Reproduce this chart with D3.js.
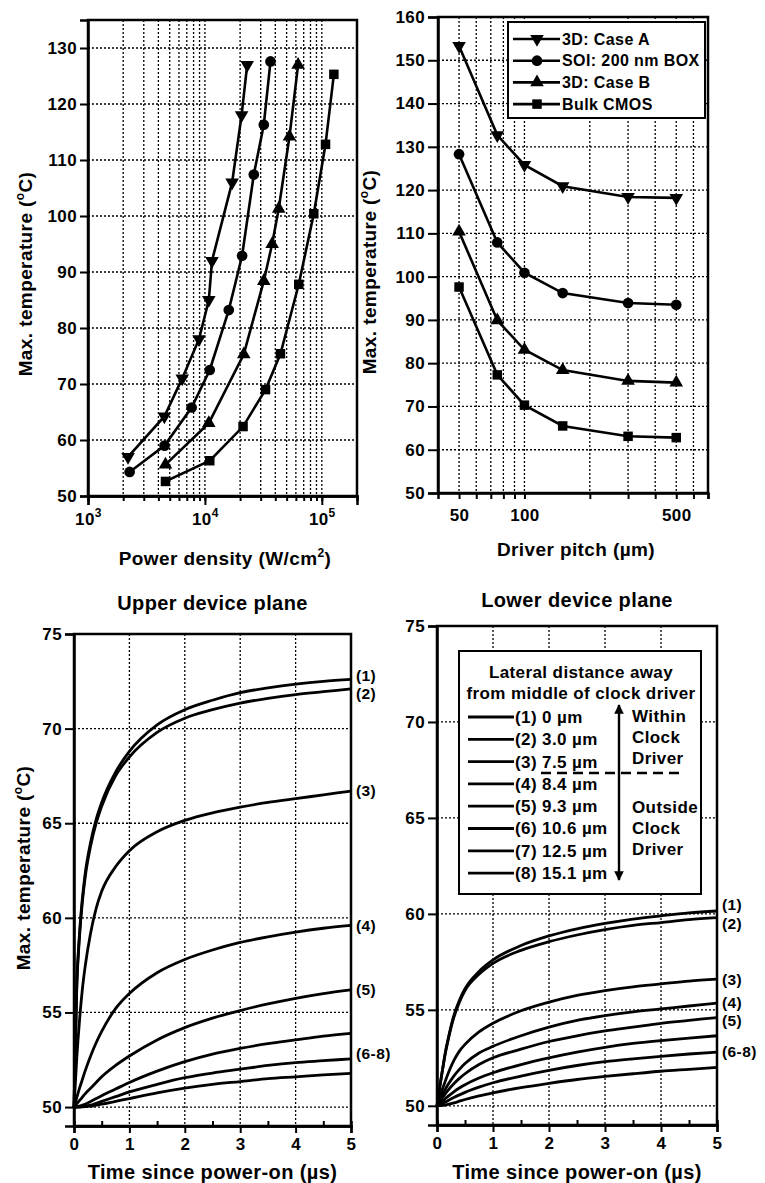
<!DOCTYPE html>
<html>
<head>
<meta charset="utf-8">
<script src="https://cdn.jsdelivr.net/npm/d3@7"></script>
<style>
  body { margin: 0; background: #fff; }
  text { font-family: 'Liberation Sans', Arial, sans-serif; font-weight: bold; fill: #000; letter-spacing: 0.4px; }
  .axis text { font-size: 17px; }
  .axis path, .axis line { stroke: #000; }
  .grid line { stroke: #000; stroke-width: 1.3; stroke-dasharray: 2, 2; }
</style>
</head>
<body>
<script>
// ---- top-left: max temperature vs power density
const pdCaseA = [2200, 4500, 6400, 8900, 10800, 11500, 17100, 20600, 23000]
const tCaseA = [57, 64.2, 71, 78, 85, 92, 106, 118, 127]
const pdSoi = [2270, 4520, 7700, 11000, 16000, 20800, 26200, 31900, 36400]
const tSoi = [54.3, 59, 65.8, 72.5, 83.2, 92.9, 107.4, 116.3, 127.6]
const pdCaseB = [4600, 10800, 21500, 31900, 37600, 42800, 52900, 62700]
const tCaseB = [55.6, 63, 75.3, 88.4, 95, 101.3, 114.2, 127]
const pdBulk = [4600, 11000, 21200, 33000, 44300, 63500, 85400, 107600, 126800]
const tBulk = [52.6, 56.3, 62.4, 69, 75.4, 87.8, 100.4, 112.8, 125.3]

// ---- top-right: max temperature vs driver pitch
const pitch = [50, 75, 100, 150, 300, 500]
const pitchCaseA = [153.3, 132.7, 125.8, 120.9, 118.4, 118.2]
const pitchSoi = [128.3, 107.9, 100.9, 96.2, 93.9, 93.5]
const pitchCaseB = [110.4, 89.9, 83.1, 78.4, 75.9, 75.5]
const pitchBulk = [97.6, 77.3, 70.3, 65.5, 63.1, 62.8]
const seriesNames = ['3D: Case A', 'SOI: 200 nm BOX', '3D: Case B', 'Bulk CMOS']

// ---- bottom: transient max temperature, curves (1)..(8)
const time = [0, 0.05, 0.1, 0.15, 0.2, 0.3, 0.4, 0.5, 0.75, 1, 1.5, 2, 2.5, 3, 3.5, 4, 4.5, 5]
const upper = [
  [50, 56.5, 59.2, 61, 62.3, 64, 65.2, 66.1, 67.7, 68.8, 70.2, 71, 71.5, 71.9, 72.15, 72.35, 72.5, 72.6],
  [50, 56.3, 59, 60.8, 62.1, 63.8, 65, 65.9, 67.5, 68.5, 69.8, 70.55, 71, 71.35, 71.6, 71.8, 71.95, 72.1],
  [50, 52.6, 54.6, 56.2, 57.4, 59.2, 60.5, 61.4, 62.7, 63.55, 64.55, 65.15, 65.55, 65.85, 66.1, 66.3, 66.5, 66.7],
  [50, 50.5, 51, 51.45, 51.9, 52.7, 53.4, 54, 55.2, 56, 57.1, 57.8, 58.3, 58.7, 59, 59.25, 59.45, 59.6],
  [50, 50.17, 50.35, 50.52, 50.7, 51, 51.3, 51.6, 52.2, 52.7, 53.55, 54.2, 54.7, 55.1, 55.45, 55.75, 56, 56.2],
  [50, 50.02, 50.05, 50.1, 50.15, 50.3, 50.45, 50.6, 50.95, 51.3, 51.9, 52.4, 52.8, 53.1, 53.35, 53.55, 53.75, 53.9],
  [50, 50, 50.01, 50.02, 50.04, 50.1, 50.2, 50.3, 50.55, 50.8, 51.2, 51.55, 51.8, 52, 52.2, 52.35, 52.45, 52.55],
  [50, 50, 50, 50.01, 50.02, 50.05, 50.1, 50.15, 50.3, 50.45, 50.75, 51, 51.2, 51.35, 51.5, 51.6, 51.7, 51.78]
]
const lower = [
  [50, 51, 51.9, 52.8, 53.5, 54.7, 55.5, 56.1, 57, 57.6, 58.35, 58.85, 59.22, 59.5, 59.73, 59.9, 60.05, 60.15],
  [50, 51, 51.9, 52.75, 53.45, 54.6, 55.4, 56, 56.85, 57.42, 58.1, 58.55, 58.9, 59.18, 59.4, 59.55, 59.7, 59.8],
  [50, 50.45, 50.9, 51.3, 51.7, 52.35, 52.85, 53.2, 53.85, 54.3, 54.95, 55.4, 55.75, 56, 56.2, 56.35, 56.5, 56.6],
  [50, 50.3, 50.6, 50.87, 51.12, 51.55, 51.9, 52.2, 52.75, 53.1, 53.65, 54.1, 54.45, 54.7, 54.9, 55.05, 55.2, 55.35],
  [50, 50.22, 50.43, 50.63, 50.82, 51.15, 51.43, 51.67, 52.15, 52.5, 52.95, 53.35, 53.65, 53.9, 54.1, 54.3, 54.45, 54.6],
  [50, 50.12, 50.25, 50.38, 50.5, 50.73, 50.93, 51.1, 51.45, 51.72, 52.15, 52.5, 52.8, 53.05, 53.25, 53.4, 53.53, 53.65],
  [50, 50.05, 50.12, 50.2, 50.28, 50.43, 50.57, 50.7, 50.97, 51.2, 51.55, 51.85, 52.1, 52.3, 52.45, 52.58, 52.7, 52.8],
  [50, 50.01, 50.02, 50.04, 50.07, 50.15, 50.24, 50.33, 50.52, 50.68, 50.95, 51.17, 51.37, 51.53, 51.67, 51.8, 51.9, 52]
]
const curveLabels = ['(1)', '(2)', '(3)', '(4)', '(5)', '(6-8)']
const legendTitle = ['Lateral distance away', 'from middle of clock driver']
const distances = ['(1) 0 µm', '(2) 3.0 µm', '(3) 7.5 µm', '(4) 8.4 µm',
  '(5) 9.3 µm', '(6) 10.6 µm', '(7) 12.5 µm', '(8) 15.1 µm']

const svg = d3.select('body').append('svg')
    .attr('width', 765)
    .attr('height', 1183)

const symbols = [
  {type: d3.symbolTriangle, size: 80, rot: 180},
  {type: d3.symbolCircle, size: 90, rot: 0},
  {type: d3.symbolTriangle, size: 80, rot: 0},
  {type: d3.symbolSquare, size: 90, rot: 0}
]

function styleAxis(g) {
  g.attr('font-family', null).attr('font-size', null)
  g.select('.domain').attr('stroke-width', 2.5)
  g.selectAll('.tick line').attr('stroke-width', 2)
}

function frame(x0, y0, x1, y1) {
  svg.append('rect')
    .attr('x', x0).attr('y', y0)
    .attr('width', x1 - x0).attr('height', y1 - y0)
    .attr('fill', 'none').attr('stroke', '#000').attr('stroke-width', 2.5)
}

function vgrid(scale, vals, y0, y1) {
  svg.append('g').attr('class', 'grid').selectAll('line').data(vals).enter().append('line')
    .attr('x1', (d) => scale(d)).attr('x2', (d) => scale(d))
    .attr('y1', y0).attr('y2', y1)
}

function hgrid(scale, vals, x0, x1) {
  svg.append('g').attr('class', 'grid').selectAll('line').data(vals).enter().append('line')
    .attr('y1', (d) => scale(d)).attr('y2', (d) => scale(d))
    .attr('x1', x0).attr('x2', x1)
}

function ytitle(x, y, label) {
  const t = svg.append('text')
    .attr('transform', `translate(${x}, ${y}) rotate(-90)`)
    .attr('text-anchor', 'middle')
    .attr('font-size', 19)
  t.append('tspan').text(label + ' (')
  t.append('tspan').attr('font-size', 12).attr('dy', -8).text('o')
  t.append('tspan').attr('dy', 8).text('C)')
}

function drawSeries(xs, ys, xScale, yScale, sym) {
  const pts = xs.map((d, i) => [xScale(d), yScale(ys[i])])
  svg.append('path')
    .attr('d', d3.line()(pts))
    .attr('fill', 'none').attr('stroke', '#000').attr('stroke-width', 2.6)
  svg.append('g').selectAll('path').data(pts).enter().append('path')
    .attr('d', d3.symbol(sym.type, sym.size))
    .attr('transform', (p) => `translate(${p[0]}, ${p[1]}) rotate(${sym.rot})`)
    .attr('fill', '#000')
}

// ================= top-left =================
const xPd = d3.scaleLog().domain([1e3, 2e5]).range([88, 357])
const yTL = d3.scaleLinear().domain([50, 135]).range([496, 20])
const pdMinor = d3.range(2, 10).map((d) => d * 1e3)
  .concat(d3.range(1, 10).map((d) => d * 1e4), [1e5])

vgrid(xPd, pdMinor, 20, 496)
hgrid(yTL, d3.range(60, 131, 10), 88, 357)

svg.append('g').attr('class', 'axis')
    .attr('transform', 'translate(0, 496)')
    .call(d3.axisBottom(xPd).tickValues(pdMinor).tickSize(5).tickFormat(''))
    .call(styleAxis)
const pdMajor = svg.append('g').attr('class', 'axis')
    .attr('transform', 'translate(0, 496)')
    .call(d3.axisBottom(xPd).tickValues([1e3, 1e4, 1e5]).tickSize(9).tickFormat(''))
    .call(styleAxis)
pdMajor.selectAll('.tick').append('text')
    .attr('y', 29).attr('text-anchor', 'middle')
    .each(function (d) {
      const t = d3.select(this)
      t.append('tspan').text('10')
      t.append('tspan').attr('font-size', 12).attr('dy', -8).text(Math.round(Math.log10(d)))
    })

svg.append('g').attr('class', 'axis')
    .attr('transform', 'translate(88, 0)')
    .call(d3.axisLeft(yTL).tickValues(d3.range(50, 131, 10)).tickSize(8).tickPadding(3))
    .call(styleAxis)
frame(88, 20, 357, 496)

drawSeries(pdCaseA, tCaseA, xPd, yTL, symbols[0])
drawSeries(pdSoi, tSoi, xPd, yTL, symbols[1])
drawSeries(pdCaseB, tCaseB, xPd, yTL, symbols[2])
drawSeries(pdBulk, tBulk, xPd, yTL, symbols[3])

ytitle(32, 274, 'Max. temperature')
const pdTitle = svg.append('text').attr('x', 225).attr('y', 565)
    .attr('text-anchor', 'middle').attr('font-size', 19)
pdTitle.append('tspan').text('Power density (W/cm')
pdTitle.append('tspan').attr('font-size', 12).attr('dy', -8).text('2')
pdTitle.append('tspan').attr('dy', 8).text(')')

// ================= top-right =================
const xPitch = d3.scaleLog().domain([40, 700]).range([438, 708])
const yTR = d3.scaleLinear().domain([50, 160]).range([493, 17])
const pitchGrid = [50, 60, 70, 80, 90, 100, 200, 300, 400, 500, 600]

vgrid(xPitch, pitchGrid, 17, 493)
hgrid(yTR, d3.range(60, 151, 10), 438, 708)

svg.append('g').attr('class', 'axis')
    .attr('transform', 'translate(0, 493)')
    .call(d3.axisBottom(xPitch).tickValues(pitchGrid.concat([700])).tickSize(6).tickPadding(10)
      .tickFormat((d) => [50, 100, 500].includes(d) ? d : ''))
    .call(styleAxis)
svg.append('g').attr('class', 'axis')
    .attr('transform', 'translate(438, 0)')
    .call(d3.axisLeft(yTR).tickValues(d3.range(50, 161, 10)).tickSize(10).tickPadding(3))
    .call(styleAxis)
frame(438, 17, 708, 493)

drawSeries(pitch, pitchCaseA, xPitch, yTR, symbols[0])
drawSeries(pitch, pitchSoi, xPitch, yTR, symbols[1])
drawSeries(pitch, pitchCaseB, xPitch, yTR, symbols[2])
drawSeries(pitch, pitchBulk, xPitch, yTR, symbols[3])

// legend
svg.append('rect').attr('x', 508).attr('y', 22).attr('width', 197).attr('height', 96)
    .attr('fill', '#fff').attr('stroke', '#000').attr('stroke-width', 2)
seriesNames.forEach((name, i) => {
  const y = 39 + i * 21.7
  svg.append('line').attr('x1', 513).attr('x2', 560).attr('y1', y).attr('y2', y)
      .attr('stroke', '#000').attr('stroke-width', 2.6)
  svg.append('path').attr('d', d3.symbol(symbols[i].type, symbols[i].size))
      .attr('transform', `translate(537, ${y}) rotate(${symbols[i].rot})`)
  svg.append('text').attr('x', 562).attr('y', y).attr('dy', '0.36em')
      .attr('font-size', 16).attr('letter-spacing', '0.2px').text(name)
})

ytitle(376, 272, 'Max. temperature')
svg.append('text').attr('x', 576).attr('y', 556)
    .attr('text-anchor', 'middle').attr('font-size', 19)
    .text('Driver pitch (µm)')

// ================= bottom panels =================
function transientPanel(curves, x0, x1, yTop, yBot, title, titleY, labelAdj) {
  const x = d3.scaleLinear().domain([0, 5]).range([x0, x1])
  const y = d3.scaleLinear().domain([49, 75]).range([yBot, yTop])

  vgrid(x, [1, 2, 3, 4], yTop, yBot)
  hgrid(y, [50, 55, 60, 65, 70], x0, x1)

  svg.append('g').attr('class', 'axis')
      .attr('transform', `translate(0, ${yBot})`)
      .call(d3.axisBottom(x).tickValues(d3.range(0.5, 5, 1)).tickSize(-5).tickFormat(''))
      .call(styleAxis)
  svg.append('g').attr('class', 'axis')
      .attr('transform', `translate(0, ${yBot})`)
      .call(d3.axisBottom(x).tickValues(d3.range(0, 6)).tickSize(7).tickPadding(5)
        .tickFormat(d3.format('d')))
      .call(styleAxis)
  svg.append('g').attr('class', 'axis')
      .attr('transform', `translate(${x0}, 0)`)
      .call(d3.axisLeft(y).tickValues([50, 55, 60, 65, 70, 75]).tickSize(9).tickPadding(3))
      .call(styleAxis)
  frame(x0, yTop, x1, yBot)

  const line = d3.line()
      .x((d, i) => x(time[i]))
      .y((d) => y(d))
      .curve(d3.curveMonotoneX)
  svg.append('g').selectAll('path').data(curves).enter().append('path')
      .attr('d', line)
      .attr('fill', 'none').attr('stroke', '#000').attr('stroke-width', 2.8)

  const ends = curves.map((c) => c[c.length - 1])
  const labelVals = ends.slice(0, 5).concat([d3.mean(ends.slice(5))])
  curveLabels.forEach((lab, i) => {
    svg.append('text').attr('x', x1 + 5).attr('y', y(labelVals[i]) + labelAdj[i])
        .attr('dy', '0.35em').attr('font-size', 15.5).text(lab)
  })

  svg.append('text').attr('x', (x0 + x1) / 2).attr('y', titleY)
      .attr('text-anchor', 'middle').attr('font-size', 20).text(title)
  svg.append('text').attr('x', (x0 + x1) / 2).attr('y', 1179)
      .attr('text-anchor', 'middle').attr('font-size', 20).text('Time since power-on (µs)')
  return {x, y}
}

transientPanel(upper, 74, 351, 634, 1126, 'Upper device plane', 610, [-4, 5, 0, 0, 0, -2])
transientPanel(lower, 437, 717, 626, 1125, 'Lower device plane', 607, [-6, 6, 0, -1, 3, 0])
ytitle(30, 868, 'Max. temperature')

// legend of the lower plane
svg.append('rect').attr('x', 459).attr('y', 651).attr('width', 242).attr('height', 243)
    .attr('fill', '#fff').attr('stroke', '#000').attr('stroke-width', 2)
legendTitle.forEach((t, i) => {
  svg.append('text').attr('x', 581).attr('y', 672 + i * 21).attr('dy', '0.35em')
      .attr('text-anchor', 'middle').attr('font-size', 17).text(t)
})
distances.forEach((t, i) => {
  const y = 717 + i * 22.3
  svg.append('line').attr('x1', 468).attr('x2', 514).attr('y1', y).attr('y2', y)
      .attr('stroke', '#000').attr('stroke-width', 2.8)
  svg.append('text').attr('x', 515).attr('y', y).attr('dy', '0.35em')
      .attr('font-size', 17).text(t)
})
svg.append('defs').append('marker')
    .attr('id', 'head').attr('viewBox', '0 0 10 10').attr('refX', 9).attr('refY', 5)
    .attr('markerWidth', 4).attr('markerHeight', 4).attr('orient', 'auto-start-reverse')
  .append('path').attr('d', 'M0,0 L10,5 L0,10 z')
svg.append('line').attr('x1', 619).attr('x2', 619).attr('y1', 705).attr('y2', 880)
    .attr('stroke', '#000').attr('stroke-width', 2.4)
    .attr('marker-start', 'url(#head)').attr('marker-end', 'url(#head)')
svg.append('line').attr('x1', 541).attr('x2', 682).attr('y1', 773).attr('y2', 773)
    .attr('stroke', '#000').attr('stroke-width', 2.6).attr('stroke-dasharray', '10,6')
;[['Within', 716], ['Clock', 737], ['Driver', 758], ['Outside', 807], ['Clock', 828], ['Driver', 849]]
  .forEach(([t, y]) => {
    svg.append('text').attr('x', 632).attr('y', y).attr('dy', '0.35em')
        .attr('font-size', 17).text(t)
  })
</script>
</body>
</html>
